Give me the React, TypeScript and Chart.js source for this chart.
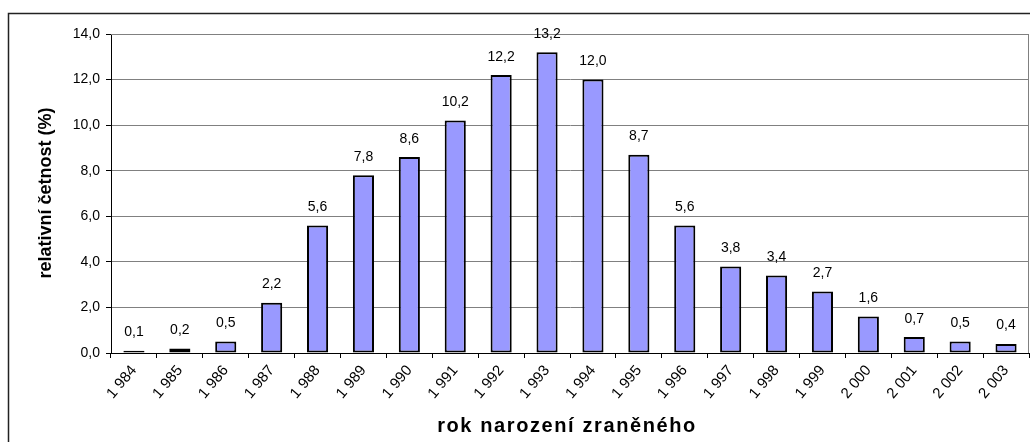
import React, { useEffect, useRef } from "react";
import { Chart, registerables } from "chart.js";

Chart.register(...registerables);

const years: string[] = [
  "1 984", "1 985", "1 986", "1 987", "1 988", "1 989", "1 990", "1 991", "1 992", "1 993",
  "1 994", "1 995", "1 996", "1 997", "1 998", "1 999", "2 000", "2 001", "2 002", "2 003",
];
const shares: number[] = [0.1, 0.2, 0.5, 2.2, 5.6, 7.8, 8.6, 10.2, 12.2, 13.2, 12.0, 8.7, 5.6, 3.8, 3.4, 2.7, 1.6, 0.7, 0.5, 0.4];
const yTitle = "relativní četnost (%)";
const xTitle = "rok narození zraněného";

const FONT = "'Liberation Sans', Arial, sans-serif";
const fmt = (v: number) => v.toFixed(1).replace(".", ",");

export default function App() {
  const ref = useRef<HTMLCanvasElement | null>(null);
  useEffect(() => {
    const canvas = ref.current;
    if (!canvas) return;
    const decor = {
      id: "decor",
      beforeDraw(chart: any) {
        const ctx = chart.ctx;
        ctx.save();
        ctx.fillStyle = "#fff";
        ctx.fillRect(0, 0, chart.width, chart.height);
        ctx.strokeStyle = "#222";
        ctx.lineWidth = 1.5;
        ctx.strokeRect(8.5, 13.5, 1100, 500);
        ctx.restore();
      },
      afterDatasetsDraw(chart: any) {
        const ctx = chart.ctx;
        const a = chart.chartArea;
        ctx.save();
        ctx.strokeStyle = "#808080";
        ctx.lineWidth = 1;
        ctx.beginPath();
        ctx.moveTo(a.left, a.top + 0.5);
        ctx.lineTo(a.right - 0.5, a.top + 0.5);
        ctx.lineTo(a.right - 0.5, a.bottom);
        ctx.stroke();
        const meta = chart.getDatasetMeta(0);
        ctx.fillStyle = "#000";
        ctx.font = `14px ${FONT}`;
        ctx.textAlign = "center";
        ctx.textBaseline = "alphabetic";
        meta.data.forEach((bar: any, i: number) => {
          ctx.fillText(fmt(shares[i]), bar.x, bar.y - 14.5);
        });
        ctx.font = `bold 18px ${FONT}`;
        ctx.translate(46, 193);
        ctx.rotate(-Math.PI / 2);
        ctx.textBaseline = "middle";
        ctx.fillText(yTitle, 0, 0);
        ctx.restore();
        ctx.save();
        ctx.fillStyle = "#000";
        ctx.font = `bold 20px ${FONT}`;
        (ctx as any).letterSpacing = "1.6px";
        ctx.textAlign = "center";
        ctx.textBaseline = "alphabetic";
        ctx.fillText(xTitle, 567, 432);
        ctx.restore();
      },
    };
    const chart = new Chart(canvas, {
      type: "bar",
      data: {
        labels: years,
        datasets: [
          {
            data: shares,
            backgroundColor: "#9999FF",
            borderColor: "#000",
            borderWidth: 2,
            borderSkipped: false,
            categoryPercentage: 1,
            barPercentage: 0.46,
          },
        ],
      },
      options: {
        animation: false,
        responsive: false,
        devicePixelRatio: 1,
        layout: { padding: { left: 0, top: 34, right: 1, bottom: 0 } },
        plugins: { legend: { display: false }, tooltip: { enabled: false } },
        scales: {
          x: {
            grid: {
              offset: true,
              drawOnChartArea: false,
              tickColor: "#000",
              tickLength: 5,
            },
            border: { color: "#000", width: 1 },
            ticks: {
              color: "#000",
              font: { family: FONT, size: 15 },
              minRotation: 50,
              maxRotation: 50,
              autoSkip: false,
              padding: 4,
            },
            afterFit(scale: any) {
              scale.height = 89;
            },
          },
          y: {
            min: 0,
            max: 14,
            grid: { color: "#808080", tickColor: "#000", tickLength: 5 },
            border: { color: "#000", width: 1 },
            ticks: {
              stepSize: 2,
              color: "#000",
              padding: 6,
              font: { family: FONT, size: 14 },
              callback: (v: any) => fmt(Number(v)),
            },
            afterFit(scale: any) {
              scale.width = 111;
            },
          },
        },
      },
      plugins: [decor],
    });
    return () => chart.destroy();
  }, []);
  return (
    <div style={{ position: "fixed", left: 0, top: 0, width: 1030, height: 442 }}>
      <canvas ref={ref} width={1030} height={442} style={{ width: 1030, height: 442, display: "block" }} />
    </div>
  );
}
